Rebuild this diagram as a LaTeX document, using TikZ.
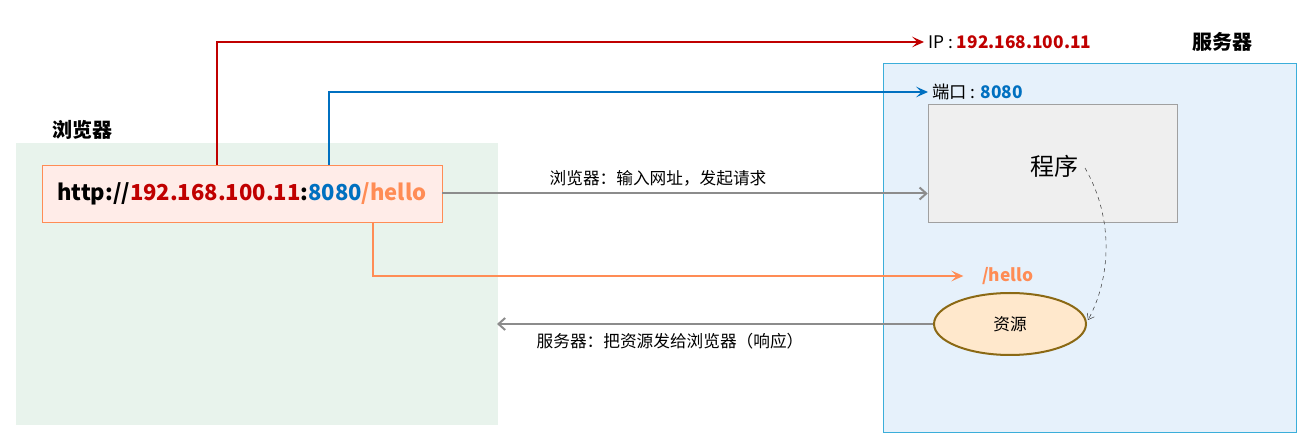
\documentclass[tikz,border=0pt]{standalone}
\usepackage{fontspec}
\setmainfont{Noto Sans CJK SC}
\usetikzlibrary{arrows.meta,shapes.geometric}
\definecolor{ipred}{HTML}{C00000}
\definecolor{portblue}{HTML}{0070C0}
\definecolor{pathorange}{HTML}{FF8C55}
\definecolor{linegray}{HTML}{8C8C8C}
\tikzset{
  title/.style    = {font=\bfseries\fontsize{15}{18}\selectfont},
  note/.style     = {font=\fontsize{13}{15}\selectfont, anchor=west, inner sep=0pt},
  link/.style     = {line width=1.5pt, -{Stealth[length=9pt,width=8pt,inset=4pt]}},
  flow/.style     = {line width=1.5pt, draw=linegray, -{Straight Barb[length=5pt,width=9pt]}}
}
\begin{document}
\begin{tikzpicture}[x=0.75pt,y=-0.75pt]
  \useasboundingbox (0,0) rectangle (1308,448);
  % areas
  \fill[fill={rgb,255:red,232;green,243;blue,236}] (16,143) rectangle (498,425);
  \draw[draw={rgb,255:red,59;green,174;blue,218}, fill={rgb,255:red,230;green,241;blue,251}] (883,63) rectangle (1296,432);
  \node[title] (browser) at (82,130) {浏览器};
  \node[title] (server) at (1222,42) {服务器};
  % url
  \node[draw=pathorange, fill={rgb,255:red,255;green,236;blue,232}, minimum width=300pt, minimum height=42.75pt,
        font=\bfseries\fontsize{16.5}{18}\selectfont] (url) at (242,193.5)
    {http://\textcolor{ipred}{192.168.100.11}:\textcolor{portblue}{8080}\textcolor{pathorange}{/hello}};
  \coordinate (ipfoot) at (217,165);
  \coordinate (portfoot) at (329,165);
  \coordinate (pathfoot) at (373,222);
  % server parts
  \node[draw={rgb,255:red,160;green,160;blue,160}, fill={rgb,255:red,239;green,239;blue,239},
        minimum width=186.75pt, minimum height=88.5pt] (prog) at (1052.5,163) {};
  \node[font=\fontsize{18}{21}\selectfont] (progtext) at (1054,166) {程序};
  \node[ellipse, draw={rgb,255:red,139;green,105;blue,20}, line width=1.5pt,
        fill={rgb,255:red,255;green,232;blue,204}, minimum width=114pt, minimum height=46.5pt,
        font=\fontsize{12.5}{14}\selectfont] (res) at (1010,324) {资源};
  % labels
  \node[note] (ip) at (928,42) {IP : \textcolor{ipred}{\bfseries 192.168.100.11}};
  \node[note] (port) at (932,92) {端口 : \textcolor{portblue}{\bfseries 8080}};
  \node[note, font=\bfseries\fontsize{13}{15}\selectfont, text=pathorange] (hello) at (982,276) {/hello};
  \node[font=\fontsize{12.5}{14}\selectfont] (req) at (658,178) {浏览器：输入网址，发起请求};
  \node[font=\fontsize{12.5}{14}\selectfont] (resp) at (670,341) {服务器：把资源发给浏览器（响应）};
  % connectors
  \draw[link, draw=ipred] (ipfoot) |- ([xshift=-3pt]ip.west);
  \draw[link, draw=portblue] (portfoot) |- ([xshift=-3pt]port.west);
  \draw[link, draw=pathorange] (pathfoot) |- ([xshift=-14pt]hello.west);
  \draw[flow] (url.east) -- (url.east -| prog.west);
  \draw[flow] (res.west) -- (497,324);
  \draw[dashed, draw={rgb,255:red,60;green,60;blue,60}, -{Straight Barb[length=4pt,width=6pt]}]
    (1085,168) .. controls (1115,220) and (1110,280) .. (1088,320);
\end{tikzpicture}
\end{document}
